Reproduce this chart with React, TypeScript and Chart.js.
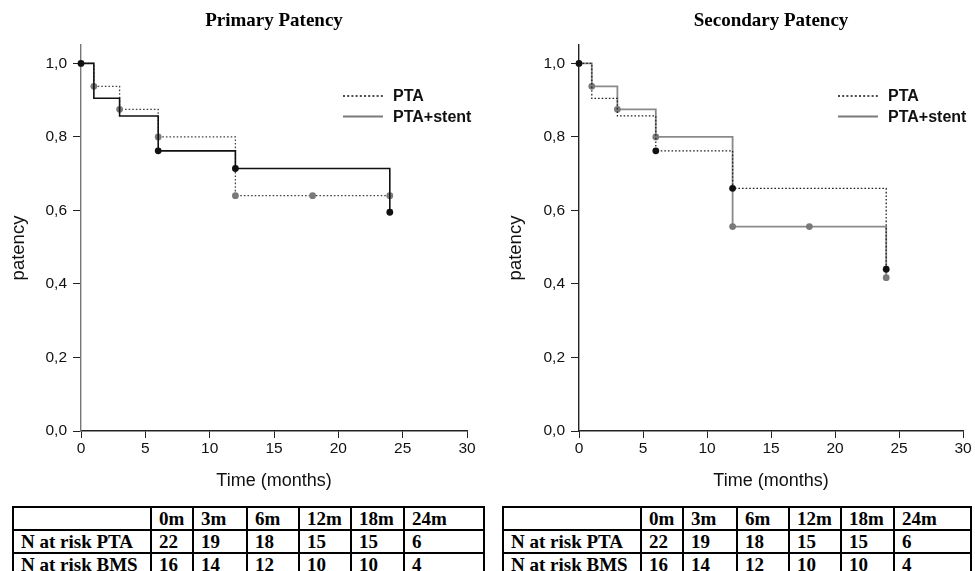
import React, { useEffect, useRef } from 'react';
import { Chart, registerables } from 'chart.js';

Chart.register(...registerables);

// ---- Data ----
const primaryPTA_x = [0, 1, 3, 6, 12, 24];
const primaryPTA_y = [1.0, 0.905, 0.857, 0.762, 0.714, 0.595];
const primaryPTA_marks = [1, 0, 0, 1, 1, 1];

const primaryStent_x = [0, 1, 3, 6, 12, 18, 24];
const primaryStent_y = [1.0, 0.9375, 0.875, 0.8, 0.64, 0.64, 0.64];
const primaryStent_marks = [0, 1, 1, 1, 1, 1, 1];

const secondaryPTA_x = [0, 1, 3, 6, 12, 24];
const secondaryPTA_y = [1.0, 0.905, 0.857, 0.762, 0.66, 0.44];
const secondaryPTA_marks = [1, 0, 0, 1, 1, 1];

const secondaryStent_x = [0, 1, 3, 6, 12, 18, 24];
const secondaryStent_y = [1.0, 0.9375, 0.875, 0.8, 0.556, 0.556, 0.417];
const secondaryStent_marks = [0, 1, 1, 1, 1, 1, 1];

const xTicks = [0, 5, 10, 15, 20, 25, 30];
const yTicks = [0, 0.2, 0.4, 0.6, 0.8, 1.0];
const legendLabels = ['PTA', 'PTA+stent'];
const yAxisTitle = 'patency';
const xAxisTitle = 'Time (months)';

const tableColumns = ['0m', '3m', '6m', '12m', '18m', '24m'];
const rowLabels = ['N at risk PTA', 'N at risk BMS'];
const atRiskPTA = [22, 19, 18, 15, 15, 6];
const atRiskBMS = [16, 14, 12, 10, 10, 4];

const SANS = '"Liberation Sans", Arial, Helvetica, sans-serif';
const SERIF = '"Liberation Serif", "Times New Roman", serif';

function series(
  label: string,
  xs: number[],
  ys: number[],
  marks: number[],
  color: string,
  pointColor: string,
  dash: number[],
  width: number
) {
  return {
    label,
    data: xs.map((x, i) => ({ x, y: ys[i] })),
    stepped: 'before' as const,
    borderColor: color,
    borderWidth: width,
    borderDash: dash,
    pointRadius: marks.map((m) => (m ? 3.4 : 0)),
    pointHoverRadius: marks.map((m) => (m ? 3.4 : 0)),
    pointBackgroundColor: pointColor,
    pointBorderColor: pointColor,
    pointBorderWidth: 0,
    fill: false,
    tension: 0,
    clip: false as any,
  };
}

// legend drawn inside the plot (as in the reference), plus rotated y-axis title
const legendPlugin = {
  id: 'kmLegend',
  afterDraw(chart: any, _args: any, o: any) {
    const ctx = chart.ctx;
    ctx.save();
    const items = o.items || [];
    for (let i = 0; i < items.length; i++) {
      const it = items[i];
      const y = o.y + i * o.gap;
      ctx.beginPath();
      ctx.setLineDash(it.dash);
      ctx.lineWidth = it.width;
      ctx.strokeStyle = it.color;
      ctx.moveTo(o.x, y);
      ctx.lineTo(o.x + o.len, y);
      ctx.stroke();
      ctx.setLineDash([]);
      ctx.font = `bold 16px ${SANS}`;
      ctx.fillStyle = '#111';
      ctx.textBaseline = 'middle';
      ctx.textAlign = 'left';
      ctx.fillText(it.label, o.x + o.len + 10, y + 1);
    }
    // y axis title
    if (o.yTitle) {
      ctx.translate(o.yTitleX, o.yTitleY);
      ctx.rotate(-Math.PI / 2);
      ctx.font = `18.5px ${SANS}`;
      ctx.fillStyle = '#111';
      ctx.textAlign = 'center';
      ctx.textBaseline = 'middle';
      ctx.fillText(o.yTitle, 0, 0);
    }
    ctx.restore();
  },
};

interface KMProps {
  left: number;
  width: number;
  height: number;
  title: string;
  axisLeft: number;
  rightPad: number;
  yTitleX: number;
  yBorderColor: string;
  datasets: any[];
  legendX: number;
}

function KMChart(p: KMProps) {
  const ref = useRef<HTMLCanvasElement>(null);
  useEffect(() => {
    if (!ref.current) return;
    const chart = new Chart(ref.current, {
      type: 'line',
      data: { datasets: p.datasets },
      plugins: [legendPlugin],
      options: {
        responsive: false,
        animation: false,
        events: [],
        layout: { padding: { left: 0, right: p.rightPad, top: 0, bottom: 0 } },
        plugins: {
          legend: { display: false },
          tooltip: { enabled: false },
          title: {
            display: true,
            text: p.title,
            fullSize: false,
            color: '#000',
            font: { family: SERIF, size: 19, weight: 'bold' },
            padding: { top: 10, bottom: 12.2 },
          },
          kmLegend: {
            x: p.legendX,
            y: 96,
            gap: 20.5,
            len: 40,
            yTitle: yAxisTitle,
            yTitleX: p.yTitleX,
            yTitleY: 248,
            items: [
              { label: legendLabels[0], dash: [2, 2.2], width: 1.6, color: '#111' },
              { label: legendLabels[1], dash: [], width: 2, color: '#7a7a7a' },
            ],
          },
        } as any,
        scales: {
          x: {
            type: 'linear',
            min: 0,
            max: 30,
            afterBuildTicks: (s: any) => {
              s.ticks = xTicks.map((v) => ({ value: v }));
            },
            afterFit: (s: any) => {
              s.height = 69;
            },
            ticks: {
              color: '#111',
              font: { family: SANS, size: 15.5 },
              padding: 1,
              maxRotation: 0,
              callback: (v: any) => String(v),
            },
            grid: { drawOnChartArea: false, drawTicks: true, tickLength: 7, color: '#222', lineWidth: 1 },
            border: { display: true, color: '#222', width: 1.4 },
            title: {
              display: true,
              text: xAxisTitle,
              color: '#111',
              font: { family: SANS, size: 18 },
              padding: { top: 0, bottom: 8.2 },
            },
          },
          y: {
            type: 'linear',
            min: 0,
            max: 1.05,
            afterBuildTicks: (s: any) => {
              s.ticks = yTicks.map((v) => ({ value: v }));
            },
            afterFit: (s: any) => {
              s.width = p.axisLeft;
            },
            ticks: {
              color: '#111',
              font: { family: SANS, size: 15.5 },
              padding: 6,
              callback: (v: any) => Number(v).toFixed(1).replace('.', ','),
            },
            grid: { drawOnChartArea: false, drawTicks: true, tickLength: 8, color: '#222', lineWidth: 1 },
            border: { display: true, color: p.yBorderColor, width: 1.4 },
            title: { display: false },
          },
        },
      } as any,
    });
    return () => chart.destroy();
  }, []);
  return (
    <canvas
      ref={ref}
      width={p.width}
      height={p.height}
      style={{ position: 'absolute', left: p.left, top: 0, width: p.width, height: p.height }}
    />
  );
}

function RiskTable({ left, colWidths }: { left: number; colWidths: number[] }) {
  const cell: React.CSSProperties = {
    border: '2px solid #000',
    padding: '0 0 0 7px',
    height: 21,
    lineHeight: '19px',
    fontFamily: SERIF,
    fontWeight: 'bold',
    fontSize: 19,
    textAlign: 'left',
    verticalAlign: 'middle',
    whiteSpace: 'nowrap',
    overflow: 'hidden',
    color: '#000',
  };
  const rows = [atRiskPTA, atRiskBMS];
  return (
    <table
      style={{
        position: 'absolute',
        left,
        top: 506,
        borderCollapse: 'collapse',
        tableLayout: 'fixed',
        width: colWidths.reduce((a, b) => a + b, 0),
      }}
    >
      <colgroup>
        {colWidths.map((w, i) => (
          <col key={i} style={{ width: w }} />
        ))}
      </colgroup>
      <tbody>
        <tr>
          <td style={cell}></td>
          {tableColumns.map((c) => (
            <td key={c} style={cell}>
              {c}
            </td>
          ))}
        </tr>
        {rows.map((r, ri) => (
          <tr key={ri}>
            <td style={cell}>{rowLabels[ri]}</td>
            {r.map((v, i) => (
              <td key={i} style={cell}>
                {v}
              </td>
            ))}
          </tr>
        ))}
      </tbody>
    </table>
  );
}

export default function App() {
  const primarySets = [
    series('PTA', primaryPTA_x, primaryPTA_y, primaryPTA_marks, '#111', '#111', [], 1.6),
    series('PTA+stent', primaryStent_x, primaryStent_y, primaryStent_marks, '#444', '#7a7a7a', [1.6, 2], 1.3),
  ];
  const secondarySets = [
    series('PTA', secondaryPTA_x, secondaryPTA_y, secondaryPTA_marks, '#222', '#111', [1.6, 2], 1.3),
    series('PTA+stent', secondaryStent_x, secondaryStent_y, secondaryStent_marks, '#8a8a8a', '#7a7a7a', [], 1.8),
  ];
  return (
    <div
      style={{
        position: 'absolute',
        left: 0,
        top: 0,
        width: 975,
        height: 571,
        overflow: 'hidden',
        background: '#fff',
      }}
    >
      <KMChart
        left={0}
        width={490}
        height={500}
        title="Primary Patency"
        axisLeft={81}
        rightPad={23}
        yTitleX={19}
        yBorderColor="#777"
        datasets={primarySets}
        legendX={343}
      />
      <KMChart
        left={490}
        width={485}
        height={500}
        title="Secondary Patency"
        axisLeft={89}
        rightPad={12}
        yTitleX={26}
        yBorderColor="#222"
        datasets={secondarySets}
        legendX={348}
      />
      <RiskTable left={12} colWidths={[138, 42, 54, 52, 52, 53, 80]} />
      <RiskTable left={502} colWidths={[138, 42, 54, 52, 52, 53, 77]} />
    </div>
  );
}
